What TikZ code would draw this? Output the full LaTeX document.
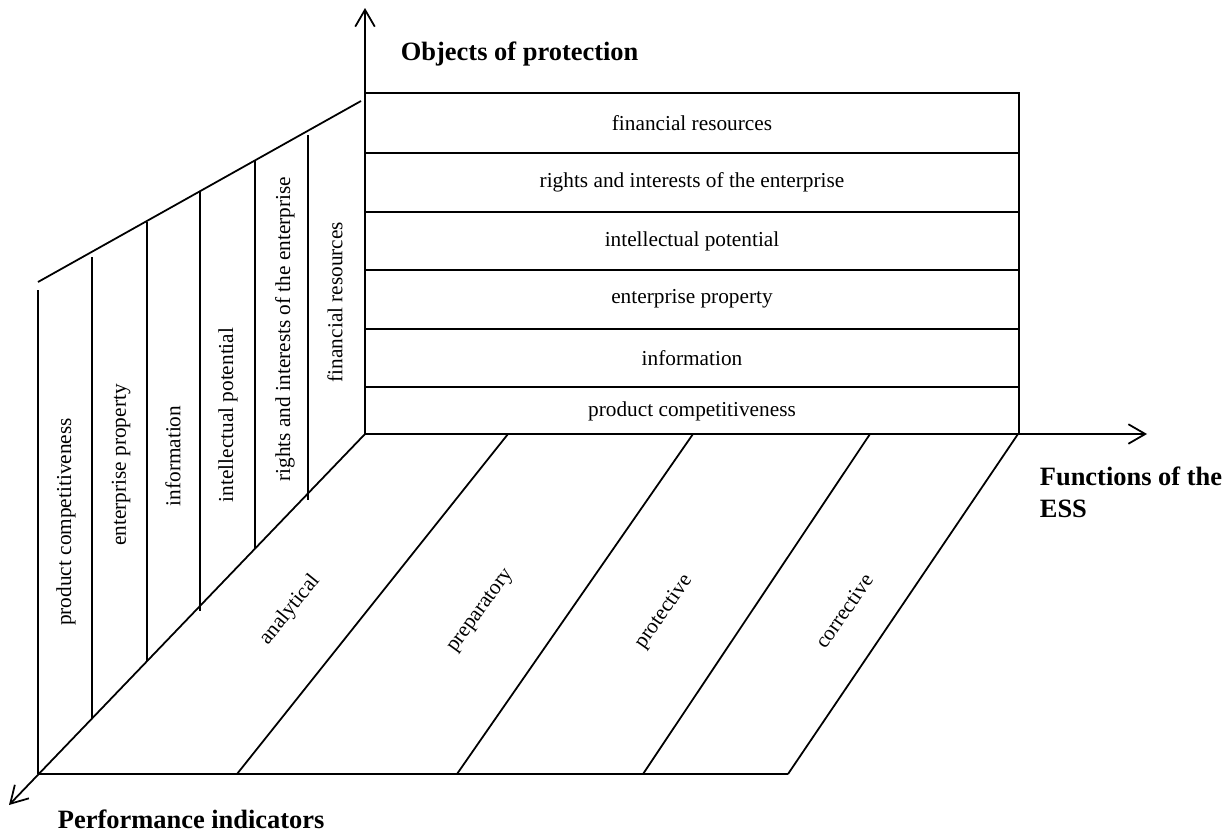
\documentclass[tikz,border=0pt]{standalone}
\usepackage{fontspec}
\setmainfont{Liberation Serif}
\usetikzlibrary{arrows.meta}

\begin{document}
\begin{tikzpicture}[x=0.5634pt,y=-0.5634pt,line width=1pt,
  axis/.style={-{Straight Barb[length=9.5pt,width=11pt]}},
  lbl/.style={font=\fontsize{12}{14}\selectfont,inner sep=0pt},
  ttl/.style={font=\fontsize{14.9}{18}\selectfont\bfseries,inner sep=0pt,align=left}]
\useasboundingbox (0,0) rectangle (1229,832);
% axes
\coordinate (O) at (365,434);
\coordinate (Y) at (365,8);
\coordinate (X) at (1147,434);
\coordinate (Z) at (9,805);
% front table
\coordinate (T1) at (365,93);
\coordinate (T2) at (1019,93);
\coordinate (T3) at (1019,434);
% left wall
\coordinate (W1) at (38,282);
\coordinate (W2) at (361,101);
% floor
\coordinate (F0) at (38,774);
\coordinate (F1a) at (508,434);
\coordinate (F1b) at (237,774);
\coordinate (F2a) at (693,434);
\coordinate (F2b) at (457,774);
\coordinate (F3a) at (870,434);
\coordinate (F3b) at (643,774);
\coordinate (F4a) at (1018,434);
\coordinate (F4b) at (788,774);

\draw[axis] (O) -- (Y);
\draw[axis] (O) -- (X);
\draw[axis] (O) -- (Z);

\draw (T1) -- (T2) -- (T3);
\draw (365,153) -- (1019,153);
\draw (365,212) -- (1019,212);
\draw (365,270) -- (1019,270);
\draw (365,329) -- (1019,329);
\draw (365,387) -- (1019,387);

\draw (W1) -- (W2);
\draw (38,290) -- (F0);
\draw (92,257) -- (92,719);
\draw (147,222) -- (147,661);
\draw (200,191) -- (200,611);
\draw (255,160) -- (255,548);
\draw (308,135) -- (308,500);

\draw (F0) -- (F4b);
\draw (F1a) -- (F1b);
\draw (F2a) -- (F2b);
\draw (F3a) -- (F3b);
\draw (F4a) -- (F4b);

\node[lbl] (rfin) at (692,123) {financial resources};
\node[lbl] (rrig) at (692,182) {rights and interests of the enterprise};
\node[lbl] (rint) at (692,241) {intellectual potential};
\node[lbl] (rpro) at (692,299) {enterprise property};
\node[lbl] (rinf) at (692,358) {information};
\node[lbl] (rcom) at (692,411) {product competitiveness};

\node[lbl,rotate=90] (wcom) at (66,522) {product competitiveness};
\node[lbl,rotate=90] (wpro) at (121,465) {enterprise property};
\node[lbl,rotate=90] (winf) at (173,456) {information};
\node[lbl,rotate=90] (wint) at (228,415) {intellectual potential};
\node[lbl,rotate=90] (wrig) at (285,329) {rights and interests of the enterprise};
\node[lbl,rotate=90] (wfin) at (335,302) {financial resources};

\node[lbl,rotate=51] (fana) at (290,610) {analytical};
\node[lbl,rotate=54] (fpre) at (481,611) {preparatory};
\node[lbl,rotate=55] (fpro) at (664,612) {protective};
\node[lbl,rotate=55] (fcor) at (844,611) {corrective};

\node[ttl,anchor=base west] (objects) at (400,60) {Objects of protection};
\node[ttl,anchor=north west] (functions) at (1039,466) {Functions of the\\ESS};
\node[ttl,anchor=base west] (indicators) at (57,828) {Performance indicators};
\end{tikzpicture}
\end{document}
